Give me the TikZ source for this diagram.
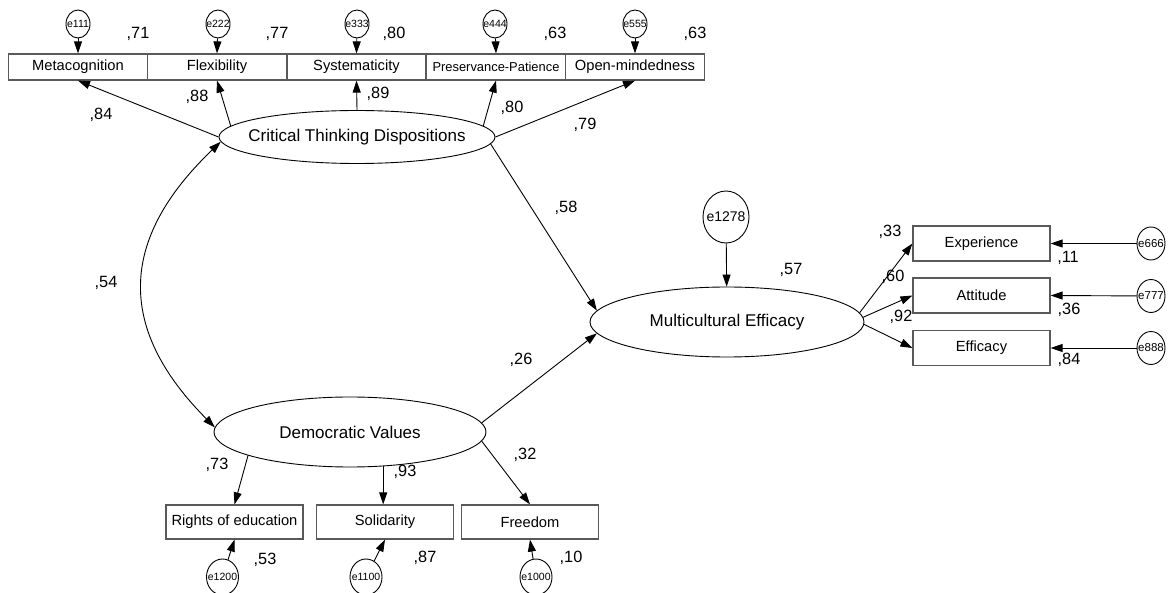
\documentclass[tikz,border=0pt]{standalone}
\usepackage{fontspec}
\setmainfont{Liberation Sans}
\usetikzlibrary{shapes.geometric,arrows.meta}
\tikzset {>={Triangle[length=12pt,width=8pt]}}
\tikzset {
  obs/.style={draw=black!65,line width=1.2pt,minimum width=139pt,minimum height=26pt,inner sep=0pt,font=\fontsize{14.7}{17}\selectfont},
  lat/.style={draw,ellipse,line width=0.9pt,inner sep=0pt,font=\fontsize{17}{20}\selectfont},
  err/.style={draw,ellipse,line width=0.9pt,inner sep=0pt,font=\fontsize{10.5}{12}\selectfont},
  est/.style={inner sep=0pt,font=\fontsize{16.3}{19}\selectfont},
  arr/.style={->,line width=0.9pt}
}
\newcommand{\zw}[1]{\makebox[0pt]{#1}}

\begin{document}
\begin{tikzpicture}[x=1pt,y=-1pt]
\useasboundingbox (0,0) rectangle (1168,593);
\node[lat,minimum width=276pt,minimum height=53pt] (ctd) at (357,137) {\zw{Critical Thinking Dispositions}};
\node[lat,minimum width=272pt,minimum height=70pt] (dv) at (350,432) {\zw{Democratic Values}};
\node[lat,minimum width=274pt,minimum height=70pt] (me) at (727,322) {\zw{Multicultural Efficacy}};
\node[err,minimum width=46pt,minimum height=52pt,font=\fontsize{14}{16}\selectfont] (e1278) at (726,217) {\zw{e1278}};
% indicators of critical thinking
\node[obs] (meta) at (78,67) {Metacognition};
\node[obs] (flex) at (217,67) {Flexibility};
\node[obs] (syst) at (356.5,67) {Systematicity};
\node[obs,font=\fontsize{12.9}{15}\selectfont] (pres) at (496,67) {Preservance-Patience};
\node[obs] (open) at (635,67) {Open-mindedness};
\node[err,minimum width=24pt,minimum height=28pt] (e111) at (78,24) {\zw{e111}};
\node[err,minimum width=24pt,minimum height=28pt] (e222) at (218,24) {\zw{e222}};
\node[err,minimum width=24pt,minimum height=28pt] (e333) at (357,24) {\zw{e333}};
\node[err,minimum width=24pt,minimum height=28pt] (e444) at (495,24) {\zw{e444}};
\node[err,minimum width=24pt,minimum height=28pt] (e555) at (635,24) {\zw{e555}};
% indicators of democratic values
\node[obs,minimum width=137pt,minimum height=34pt] (rights) at (234.5,522) {Rights of education};
\node[obs,minimum width=137pt,minimum height=34pt] (soli) at (385,522) {Solidarity};
\node[obs,minimum width=137pt,minimum height=34pt] (free) at (530,522) {Freedom};
\node[err,minimum width=32pt,minimum height=36pt] (e1200) at (222.5,577) {\zw{e1200}};
\node[err,minimum width=32pt,minimum height=36pt] (e1100) at (366,577) {\zw{e1100}};
\node[err,minimum width=32pt,minimum height=36pt] (e1000) at (536,577) {\zw{e1000}};
% indicators of multicultural efficacy
\node[obs,minimum width=137pt,minimum height=35pt] (expe) at (981.5,243.5) {Experience};
\node[obs,minimum width=137pt,minimum height=35pt] (atti) at (981.5,295.5) {Attitude};
\node[obs,minimum width=137pt,minimum height=35pt] (effi) at (981.5,348) {Efficacy};
\node[err,minimum width=28pt,minimum height=33pt,font=\fontsize{11.5}{13}\selectfont] (e666) at (1151,243.5) {\zw{e666}};
\node[err,minimum width=28pt,minimum height=33pt,font=\fontsize{11.5}{13}\selectfont] (e777) at (1151,296) {\zw{e777}};
\node[err,minimum width=28pt,minimum height=33pt,font=\fontsize{11.5}{13}\selectfont] (e888) at (1151,348) {\zw{e888}};

\draw[arr] (ctd.west) -- (meta.south);
\draw[arr] (ctd.175) -- (flex.south);
\draw[arr] (ctd.north) -- (syst.south);
\draw[arr] (ctd.5) -- (pres.south);
\draw[arr] (ctd.east) -- (open.south);
\draw[arr] (e111) -- (meta.north);
\draw[arr] (e222) -- (flex.north);
\draw[arr] (e333) -- (syst.north);
\draw[arr] (e444) -- (pres.north);
\draw[arr] (e555) -- (open.north);
\draw[arr,<->] (ctd.182) .. controls (117,241) and (118,330) .. (dv.178);
\draw[arr] (ctd.-3) -- (me.175);
\draw[arr] (dv.4) -- (me.185);
\draw[arr] (e1278) -- (me);
\draw[arr] (dv.193) -- (rights.north);
\draw[arr] (dv.-46) -- (dv.-46 |- soli.north);
\draw[arr] (dv.-4) -- (free.north);
\draw[arr] (e1200) -- (rights.south);
\draw[arr] (e1100) -- (soli.south);
\draw[arr] (e1000) -- (free.south);
\draw[arr] (me.4) -- (expe.west);
\draw[arr] (me.2) -- (atti.west);
\draw[arr] (me.-1) -- (effi.west);
\draw[arr] (e666) -- (expe.east);
\draw[arr] (e777) -- (atti.east);
\draw[arr] (e888) -- (effi.east);

\node[est] (r-meta) at (138,34) {,71};
\node[est] (r-flex) at (277,34) {,77};
\node[est] (r-syst) at (394,34) {,80};
\node[est] (r-pres) at (555,34) {,63};
\node[est] (r-open) at (695,34) {,63};
\node[est] (l-meta) at (101,115) {,84};
\node[est] (l-flex) at (197,97) {,88};
\node[est] (l-syst) at (378,94) {,89};
\node[est] (l-pres) at (512,108) {,80};
\node[est] (l-open) at (585,125) {,79};
\node[est] (c-ctd-dv) at (106,283) {,54};
\node[est] (b-ctd) at (566,208) {,58};
\node[est] (b-dv) at (521,360) {,26};
\node[est] (r-me) at (791,270) {,57};
\node[est] (l-rights) at (217,465) {,73};
\node[est] (l-soli) at (405,472) {,93};
\node[est] (l-free) at (525,455) {,32};
\node[est] (r-rights) at (265,560) {,53};
\node[est] (r-soli) at (425,558) {,87};
\node[est] (r-free) at (571,558) {,10};
\node[est] (l-expe) at (890,232) {,33};
\node[est] (l-atti) at (893,277) {,60};
\node[est] (l-effi) at (901,317) {,92};
\node[est] (r-expe) at (1068,258) {,11};
\node[est] (r-atti) at (1069,310) {,36};
\node[est] (r-effi) at (1069,360) {,84};
\end{tikzpicture}
\end{document}
